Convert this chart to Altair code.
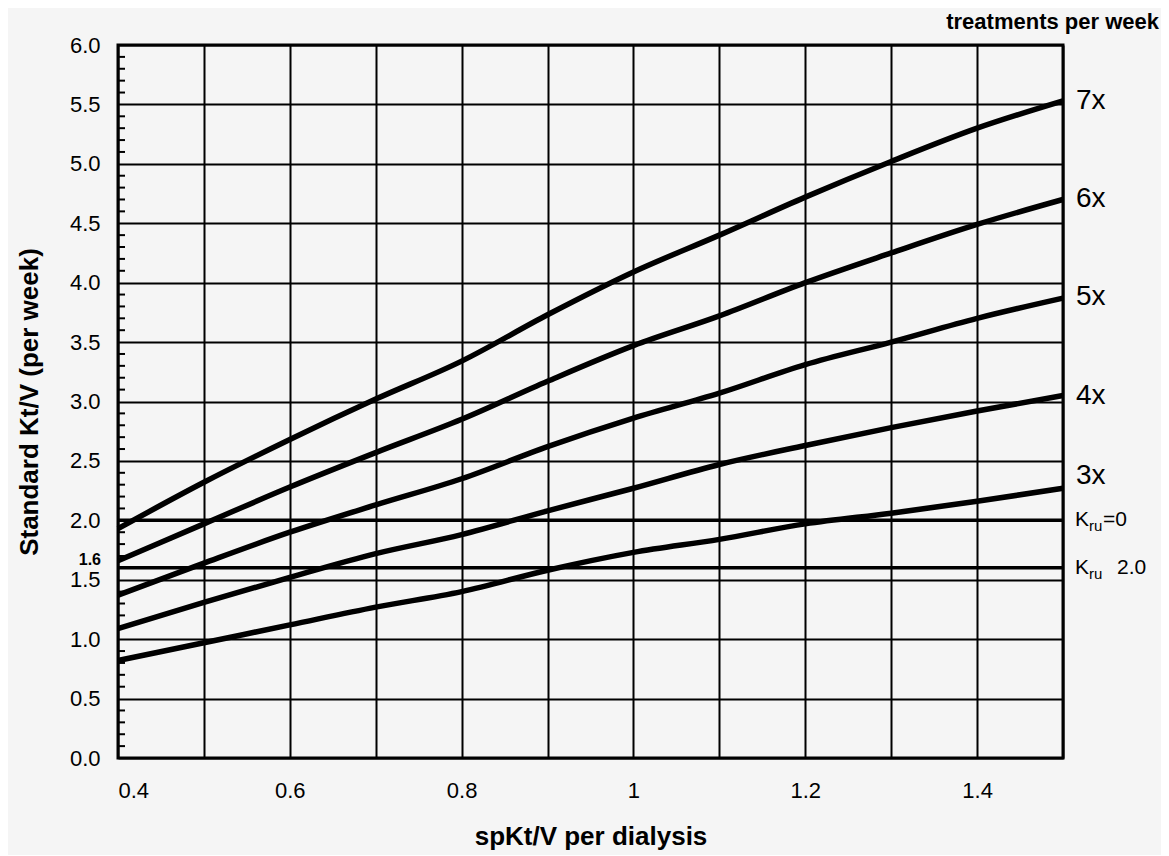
import altair as alt
import pandas as pd

# ---- data ----
x_vals = [0.4, 0.5, 0.6, 0.7, 0.8, 0.9, 1.0, 1.1, 1.2, 1.3, 1.4, 1.5]
s7 = [1.93, 2.32, 2.68, 3.02, 3.34, 3.73, 4.09, 4.40, 4.72, 5.02, 5.30, 5.53]
s6 = [1.66, 1.97, 2.28, 2.57, 2.85, 3.17, 3.47, 3.72, 4.00, 4.25, 4.49, 4.70]
s5 = [1.37, 1.64, 1.90, 2.13, 2.35, 2.62, 2.86, 3.07, 3.31, 3.50, 3.70, 3.87]
s4 = [1.09, 1.31, 1.52, 1.72, 1.88, 2.08, 2.27, 2.47, 2.63, 2.78, 2.92, 3.05]
s3 = [0.82, 0.97, 1.12, 1.27, 1.40, 1.58, 1.73, 1.84, 1.97, 2.06, 2.16, 2.27]
series_names = ["7x", "6x", "5x", "4x", "3x"]
series_vals = [s7, s6, s5, s4, s3]
label_y = [5.53, 4.70, 3.88, 3.05, 2.37]

x_ticks = [0.4, 0.5, 0.6, 0.7, 0.8, 0.9, 1.0, 1.1, 1.2, 1.3, 1.4, 1.5]
y_ticks = [0.0, 0.5, 1.0, 1.5, 2.0, 2.5, 3.0, 3.5, 4.0, 4.5, 5.0, 5.5, 6.0]
y_minor = [round(i * 0.1, 1) for i in range(1, 60) if i % 5 != 0]
kru_levels = [2.0, 1.6]
x_min, x_max = 0.4, 1.5

FONT = "Liberation Sans"

rows = []
for name, vals in zip(series_names, series_vals):
    for xv, yv in zip(x_vals, vals):
        rows.append({"series": name, "x": xv, "y": yv})
df_lines = pd.DataFrame(rows)
df_labels = pd.DataFrame({"label": series_names, "x": [x_max] * 5, "y": label_y})
df_minor = pd.DataFrame({"y": y_minor})

X = alt.X(
    "x:Q",
    scale=alt.Scale(domain=[x_min, x_max], nice=False, zero=False),
    axis=alt.Axis(
        values=x_ticks,
        labelExpr="(round(datum.value*10) % 2 == 0) ? format(datum.value, '.1~f') : ''",
        title="spKt/V per dialysis",
    ),
)
Y = alt.Y(
    "y:Q",
    scale=alt.Scale(domain=[0, 6], nice=False, zero=False),
    axis=alt.Axis(values=y_ticks, format=".1f", title="Standard Kt/V (per week)"),
)

lines = alt.Chart(df_lines).mark_line(
    color="black", strokeWidth=5.5, interpolate="monotone"
).encode(x=X, y=Y, detail="series:N")

kru0 = alt.Chart(pd.DataFrame({"y": [kru_levels[0]], "x": [x_min], "x2": [x_max]})).mark_rule(
    color="black", strokeWidth=3.5
).encode(x=X, x2="x2:Q", y=Y)
kru2 = alt.Chart(pd.DataFrame({"y": [kru_levels[1]], "x": [x_min], "x2": [x_max]})).mark_rule(
    color="black", strokeWidth=3.5
).encode(x=X, x2="x2:Q", y=Y)

minor = alt.Chart(df_minor).mark_rule(color="black", strokeWidth=2).encode(
    y=Y, x=alt.value(0), x2=alt.value(7)
)

labels = alt.Chart(df_labels).mark_text(
    align="left", baseline="middle", dx=13, fontSize=28, font=FONT, color="black"
).encode(x=X, y=Y, text="label:N")

kdf = pd.DataFrame({"x": [x_max, x_max], "y": kru_levels})
k_main = alt.Chart(kdf).mark_text(
    align="left", baseline="middle", dx=12, fontSize=21, font=FONT, color="black"
).encode(x=X, y=Y, text=alt.value("K"))
k_sub = alt.Chart(kdf).mark_text(
    align="left", baseline="middle", dx=26, dy=6, fontSize=15, font=FONT, color="black"
).encode(x=X, y=Y, text=alt.value("ru"))
k0_tail = alt.Chart(kdf.iloc[[0]]).mark_text(
    align="left", baseline="middle", dx=40, fontSize=21, font=FONT, color="black"
).encode(x=X, y=Y, text=alt.value("=0"))
k2_tail = alt.Chart(kdf.iloc[[1]]).mark_text(
    align="left", baseline="middle", dx=54, fontSize=21, font=FONT, color="black"
).encode(x=X, y=Y, text=alt.value("2.0"))

lbl16 = alt.Chart(pd.DataFrame({"x": [x_min], "y": [kru_levels[1]]})).mark_text(
    align="right", baseline="middle", dx=-17, dy=-8, fontSize=16, fontWeight="bold",
    font=FONT, color="black"
).encode(x=X, y=Y, text=alt.value("1.6"))

top_title = alt.Chart(pd.DataFrame({"x": [x_max], "y": [6.0]})).mark_text(
    align="right", baseline="middle", dx=96, dy=-23, fontSize=22, fontWeight="bold",
    font=FONT, color="black"
).encode(x=X, y=Y, text=alt.value("treatments per week"))

chart = alt.layer(
    minor, kru0, kru2, lines, labels, k_main, k_sub, k0_tail, k2_tail, lbl16, top_title
).properties(
    width=945,
    height=713,
    autosize=alt.AutoSizeParams(type="none"),
    padding={"left": 110, "top": 37, "right": 98, "bottom": 97},
    background="#f5f5f5",
).configure_view(
    stroke="black", strokeWidth=3, fill="#f5f5f5"
).configure_axis(
    grid=True, gridColor="black", gridWidth=2, gridOpacity=1,
    ticks=False, domain=False,
    labelFont=FONT, labelFontSize=22, labelColor="black",
    titleFont=FONT, titleFontSize=26, titleFontWeight="bold", titleColor="black",
).configure_axisX(
    labelPadding=22, titlePadding=22
).configure_axisY(
    labelPadding=18, titlePadding=27
)

chart.save("out.html", embed_options={"renderer": "svg", "actions": False})
